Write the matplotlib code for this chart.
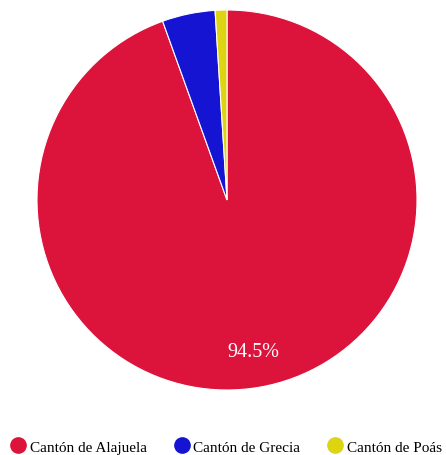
import matplotlib
matplotlib.use("Agg")
import matplotlib.pyplot as plt
from matplotlib.lines import Line2D

# data
labels = ["Cantón de Alajuela", "Cantón de Grecia", "Cantón de Poás"]
shares = [94.5, 4.5, 1.0]
colors = ["#DC143C", "#1414D2", "#DDD414"]

plt.rcParams["font.family"] = ["Liberation Serif", "DejaVu Serif"]

fig = plt.figure(figsize=(4.46, 4.56), dpi=100)
ax = fig.add_axes([37 / 446, 1 - 392 / 456, 380 / 446, 382 / 456])

def fmt(p):
    return f"{p:.1f}%" if p > 10 else ""

wedges, texts, autotexts = ax.pie(
    shares, colors=colors, startangle=90, counterclock=False,
    autopct=fmt, pctdistance=0.81,
    wedgeprops=dict(edgecolor="white", linewidth=0.8),
    textprops=dict(color="white", fontsize=14.5),
)
ax.set_xlim(-1.0, 1.0)
ax.set_ylim(-1.0, 1.0)
ax.set_aspect("equal")

handles = [Line2D([], [], marker="o", linestyle="", markersize=11,
                  markerfacecolor=c, markeredgecolor=c) for c in colors]
fig.legend(handles, labels, loc="lower center", ncol=3, frameon=False,
           bbox_to_anchor=(0.507, -0.027), fontsize=11, handletextpad=0.25,
           columnspacing=1.8, handlelength=1.0)

fig.savefig("out.png", dpi=100)
